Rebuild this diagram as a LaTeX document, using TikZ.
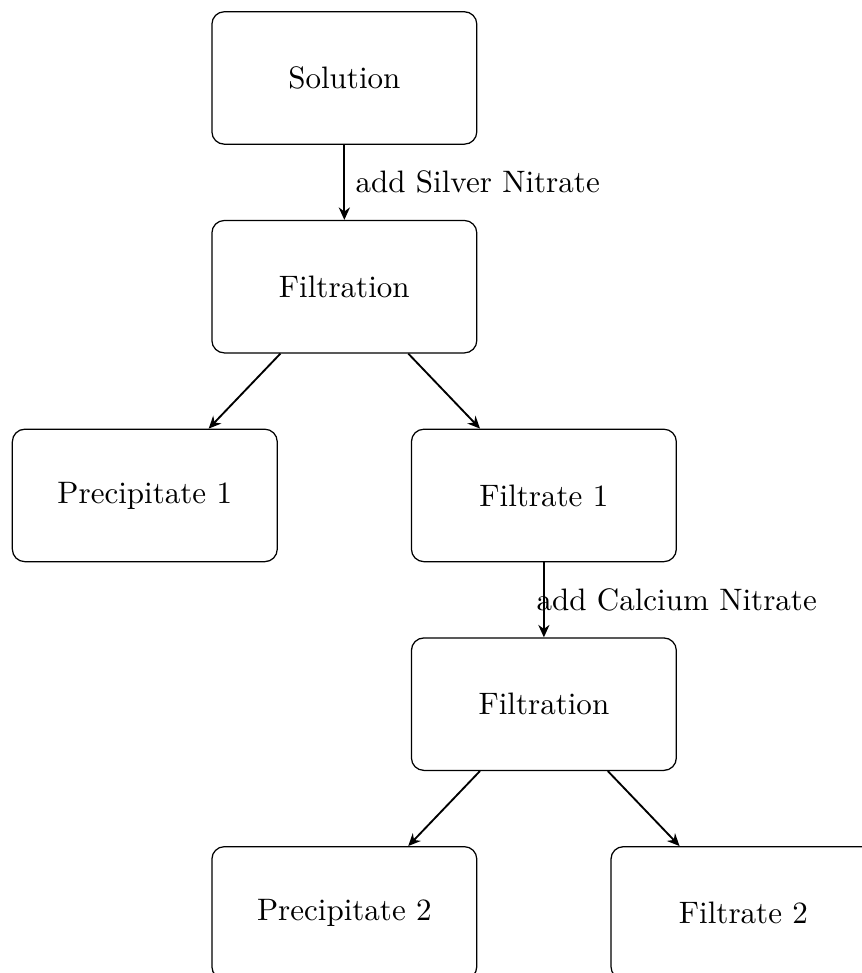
\documentclass[tikz,border=0pt]{standalone}
\usepackage{tikz}
\usetikzlibrary{arrows.meta, positioning}

\begin{document}
\begin{tikzpicture}[
        box/.style={rectangle, draw, rounded corners, minimum width=3cm, minimum height=1.5cm, align=center},
        arr/.style={-{Stealth[length=4pt, width=3.6pt]}, semithick},
        node distance=0.85cm
        ]
        \clip (0,0) rectangle (9.76,-11.02);
        \node[box] (sol) at (3.90,-0.883) {Solution};
        \node[box, below=of sol] (filt1) {Filtration};
        \node[box, below=of filt1, xshift=-2.26cm] (prec1) {Precipitate 1};
        \node[box, below=of filt1, xshift=2.26cm] (filtr1) {Filtrate 1};
        \node[box, below=of filtr1] (filt2) {Filtration};
        \node[box, below=of filt2, xshift=-2.26cm] (prec2) {Precipitate 2};
        \node[box, below=of filt2, xshift=2.26cm] (filtr2) {Filtrate 2};
        \draw[arr] (sol) -- node[right] {add Silver Nitrate} (filt1);
        \draw[arr] (filt1) -- (prec1);
        \draw[arr] (filt1) -- (filtr1);
        \draw[arr] (filtr1) -- node[right, xshift=-6pt] {add Calcium Nitrate} (filt2);
        \draw[arr] (filt2) -- (prec2);
        \draw[arr] (filt2) -- (filtr2);
    \end{tikzpicture}
\end{document}
